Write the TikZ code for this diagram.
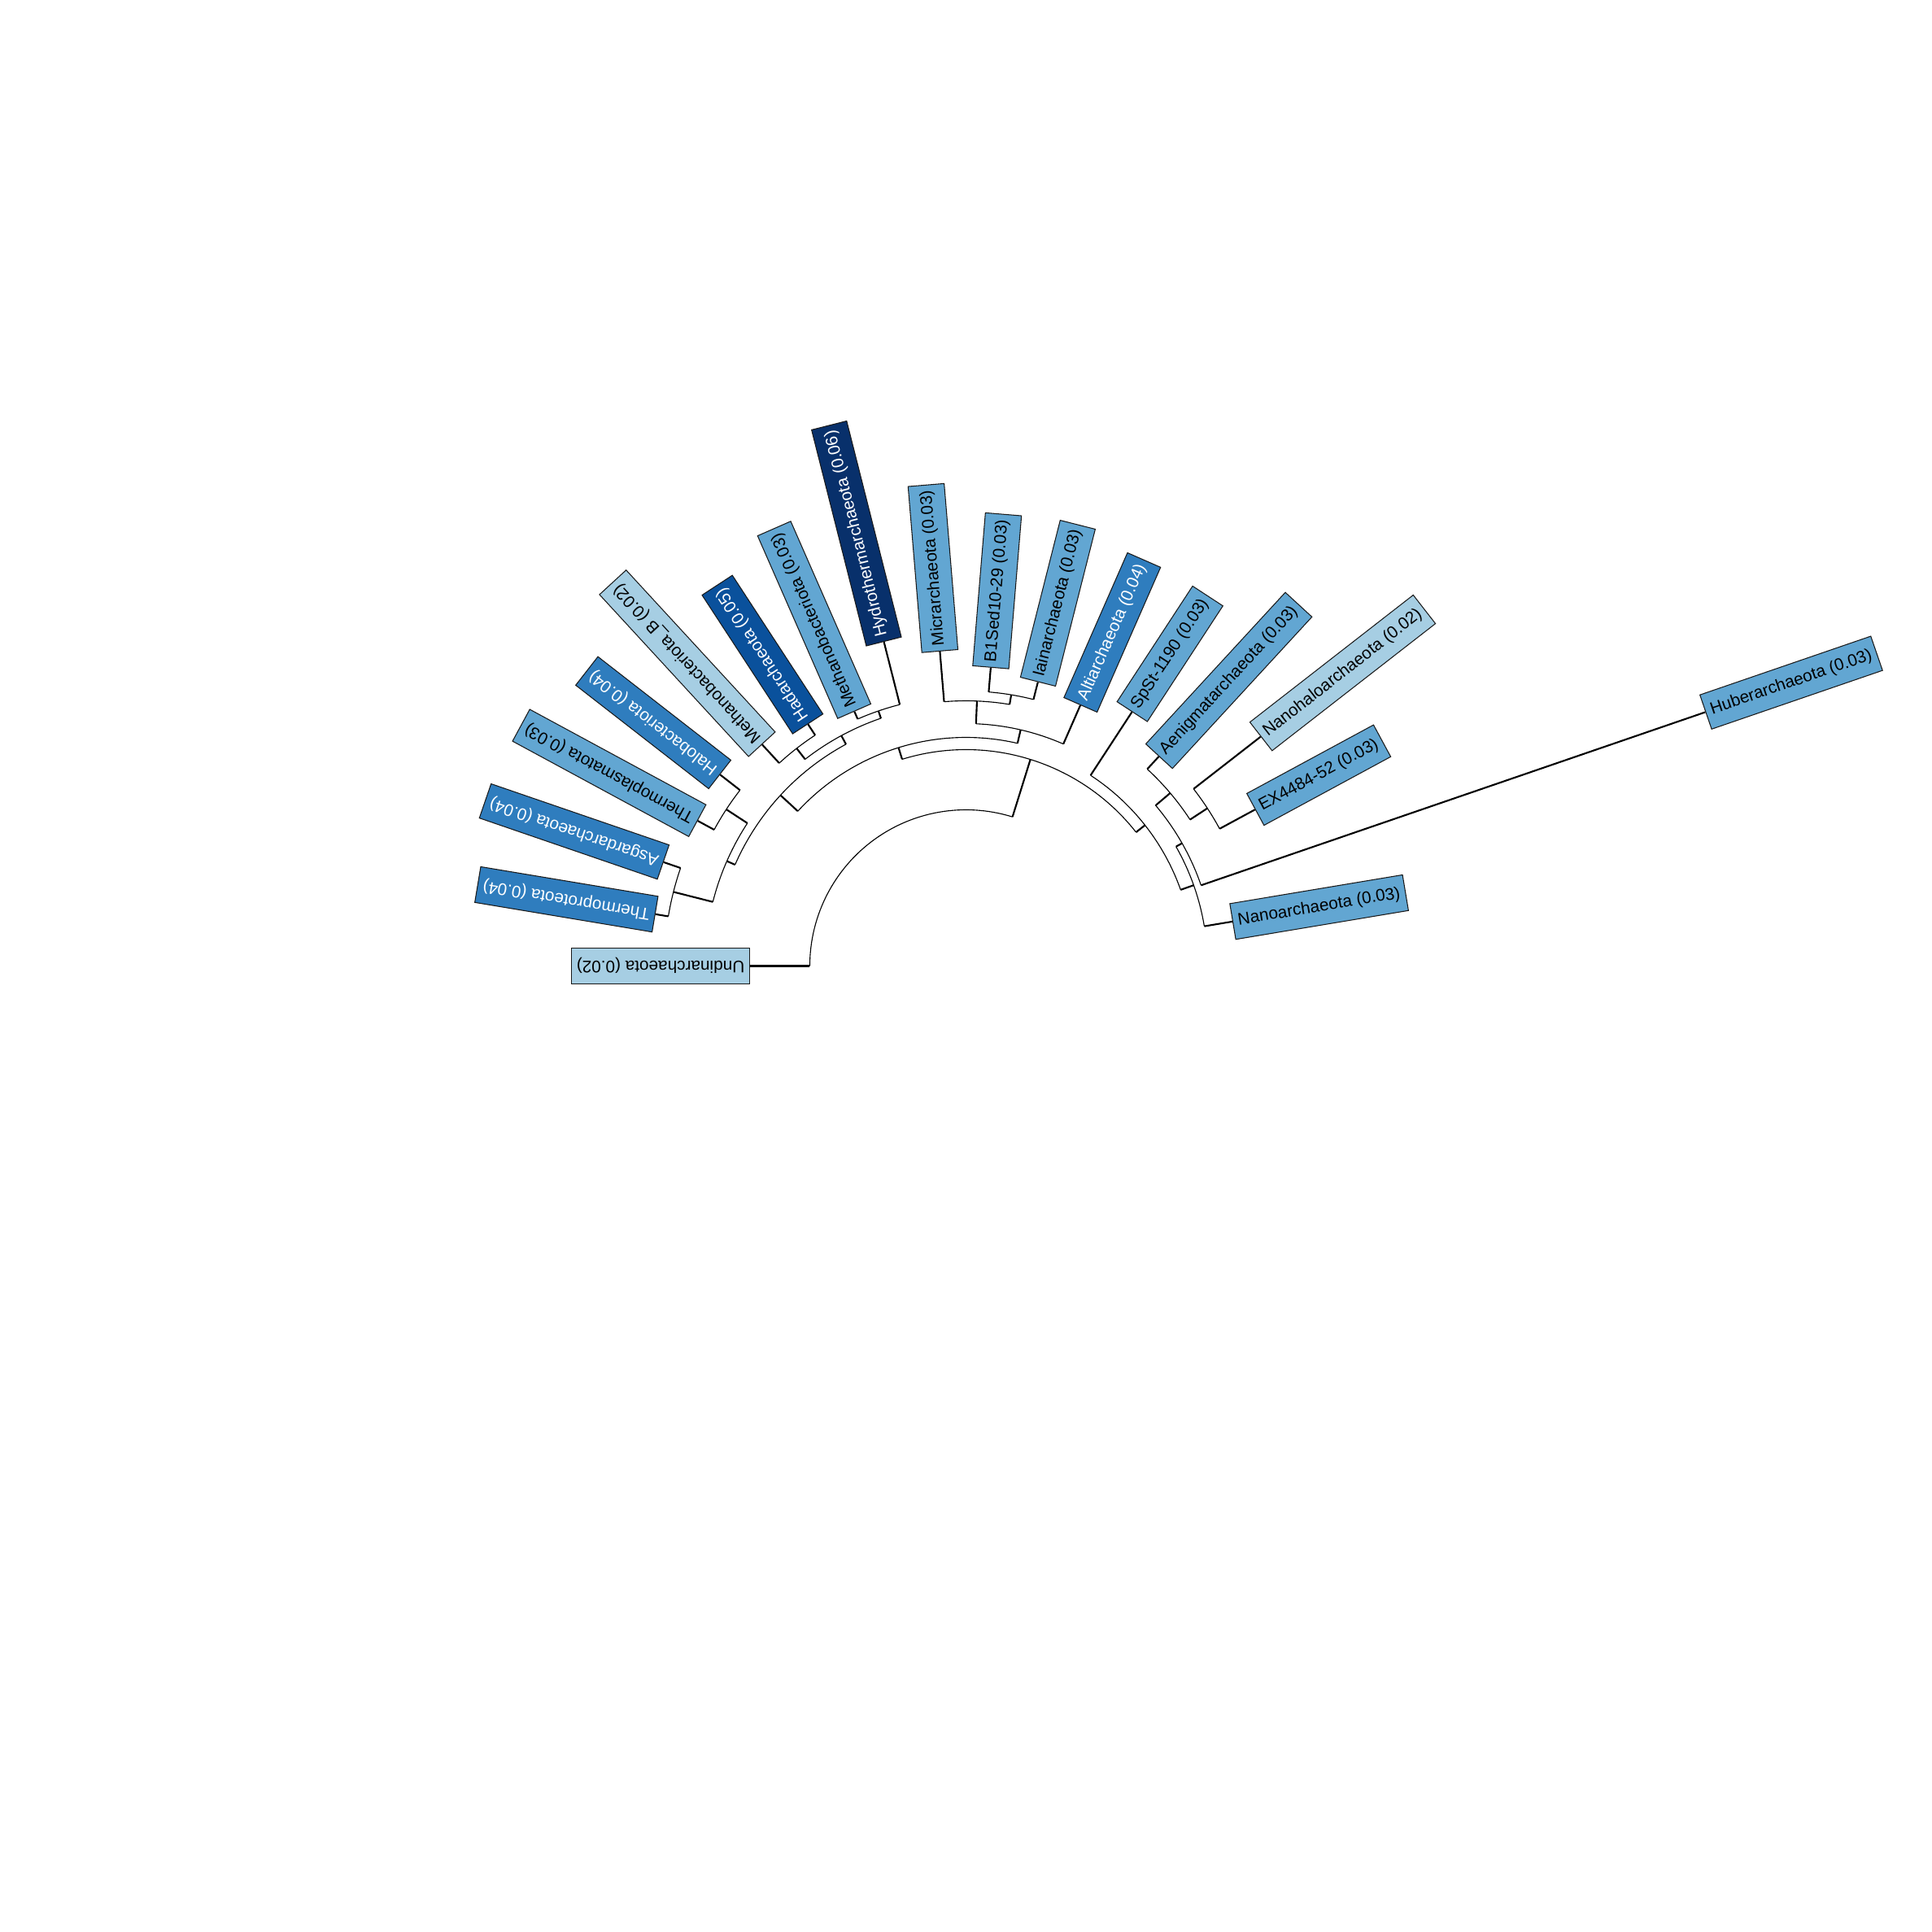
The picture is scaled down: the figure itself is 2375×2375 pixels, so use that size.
\documentclass[tikz,border=0pt]{standalone}
\usepackage{fontspec}
\setmainfont{Liberation Sans}
\definecolor{Blue02}{HTML}{A6CEE3}
\definecolor{Blue03}{HTML}{62A6D2}
\definecolor{Blue04}{HTML}{2F7DBE}
\definecolor{Blue05}{HTML}{0A519C}
\definecolor{Blue06}{HTML}{08306B}
\definecolor{BoxEdge}{HTML}{1A1A1A}
\tikzset{
  taxbox/.style={draw=BoxEdge,line width=0.3pt,anchor=west,
    inner xsep=1.9pt,inner ysep=3.5pt,text height=4.4pt,text depth=1.25pt,
    font=\fontsize{5.9}{7}\selectfont},
  radial/.style={line width=0.6pt},
  hoopline/.style={line width=0.32pt}
}
\newcommand\hoop[3]{\draw[hoopline] (#2:#1) arc[start angle=#2,end angle=#3,radius=#1];}

\begin{document}
\begin{tikzpicture}[x=0.01cm,y=0.01cm]
    \useasboundingbox (-1187.5,-1187.5) rectangle (1187.5,1187.5);
    % inner nodes: name/angle/parent radius/radius
    \foreach \nm/\ang/\rp/\rr in {a/72.68/192/266, b/107.17/266/281,
        b1/137.37/281/310, tah/156.32/310/321, ta/165.79/321/371,
        th/146.84/321/352, x/118.42/310/322, mh/127.89/322/339,
        mhy/108.95/322/331.5, b2/76.97/281/298, mbi/87.63/298/326,
        bi/80.53/326/338, c/38.19/266/280, g/19.54/280/297,
        h/29.61/297/305.5, e/40.26/305.5/329, ne/33.16/329/354.5}{
      \coordinate (\nm-base) at (\ang:\rp);
      \coordinate (\nm) at (\ang:\rr);
      \draw[radial] (\nm-base) -- (\nm);
    }
    \hoop{192}{180}{72.68}
    \hoop{266}{107.17}{38.19}
    \hoop{281}{137.37}{76.97}
    \hoop{310}{156.32}{118.42}
    \hoop{321}{165.79}{146.84}
    \hoop{371}{170.53}{161.05}
    \hoop{352}{151.58}{142.11}
    \hoop{322}{127.89}{108.95}
    \hoop{339}{132.63}{123.16}
    \hoop{331.5}{113.68}{104.21}
    \hoop{298}{87.63}{66.32}
    \hoop{326}{94.74}{80.53}
    \hoop{338}{85.26}{75.79}
    \hoop{280}{56.84}{19.54}
    \hoop{297}{29.61}{9.47}
    \hoop{305.5}{40.26}{18.95}
    \hoop{329}{47.37}{33.16}
    \hoop{354.5}{37.89}{28.42}
    % tips
    \foreach \nm/\ang/\rp/\rr/\col/\tc/\txt in {
        undin/180/192/265/Blue02/black/Undinarchaeota (0.02),
        tprot/170.53/371/387/Blue04/white/Thermoproteota (0.04),
        asgard/161.05/371/393/Blue04/white/Asgardarchaeota (0.04),
        tplas/151.58/352/375/Blue03/black/Thermoplasmatota (0.03),
        halo/142.11/352/383/Blue04/white/Halobacteriota (0.04),
        mbacb/132.63/339/370/Blue02/black/Methanobacteriota\_B (0.02),
        hadar/123.16/339/355/Blue05/white/Hadarchaeota (0.05),
        mbac/113.68/331.5/341.5/Blue03/black/Methanobacteriota (0.03),
        hydro/104.21/331.5/411/Blue06/white/Hydrothermarchaeota (0.06),
        micr/94.74/326/388/Blue03/black/Micrarchaeota (0.03),
        bsed/85.26/338/368/Blue03/black/B1Sed10-29 (0.03),
        iain/75.79/338/360/Blue03/black/Iainarchaeota (0.03),
        alti/66.32/298/350/Blue04/white/Altiarchaeota (0.04),
        spst/56.84/280/373/Blue03/black/SpSt-1190 (0.03),
        aenig/47.37/329/350/Blue03/black/Aenigmatarchaeota (0.03),
        nhalo/37.89/354.5/459/Blue02/black/Nanohaloarchaeota (0.02),
        exf/28.42/354.5/404/Blue03/black/EX4484-52 (0.03),
        huber/18.95/305.5/961/Blue03/black/Huberarchaeota (0.03),
        nano/9.47/297/332/Blue03/black/Nanoarchaeota (0.03)}{
      \coordinate (\nm-base) at (\ang:\rp);
      \coordinate (\nm) at (\ang:\rr);
      \draw[radial] (\nm-base) -- (\nm);
      \node[taxbox,fill=\col,text=\tc,rotate=\ang] (\nm-lab) at (\nm) {\txt};
    }
  \end{tikzpicture}
\end{document}
